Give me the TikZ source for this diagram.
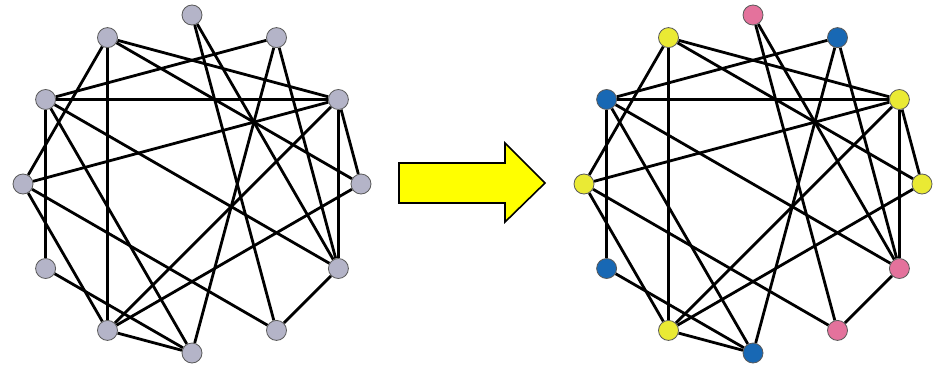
\documentclass[tikz,border=0pt]{standalone}
\usetikzlibrary{backgrounds}
\definecolor{vgray}{HTML}{B4B4C8}
\definecolor{vpink}{HTML}{E4729C}
\definecolor{vblue}{HTML}{1868B4}
\definecolor{vyellow}{HTML}{EAEA34}
\definecolor{arrowyellow}{HTML}{FFFF00}
\tikzset{
  vertex/.style={circle, draw=black!65, line width=0.8pt, minimum size=20pt, inner sep=0pt},
  edge/.style={line width=2.8pt, black},
  bigarrow/.style={fill=arrowyellow, draw=black, line width=1.6pt, line join=miter}
}
% vertices of a regular 12-gon (centre (192,184), radius 169) and the edge set
\newcommand\graphedges{T/LR, T/R3, UL/R1, UL/R2, UL/LL, UL/L2, L1/R1, L1/UR, L1/L3, L1/B, L1/R3,
  L2/R1, L2/LR, L2/LL, L3/B, LL/B, LL/R1, LL/R2, UR/B, UR/R3, R1/R3, R1/R2, R3/LR}
\newcommand\drawgraph[3]{%
  \begin{scope}[xshift=#1, name prefix=#2-]
    \foreach \n/\px/\py/\c in {#3}
      \node[vertex, fill=\c] (\n) at (\px,\py) {};
    \begin{scope}[on background layer]
      \foreach \a/\b in \graphedges
        \draw[edge] (\a) -- (\b);
    \end{scope}
  \end{scope}}
\begin{document}
\begin{tikzpicture}[x=1pt,y=-1pt]
\useasboundingbox (0,0) rectangle (936,367);
\drawgraph{0pt}{a}{T/192/15/vgray, UR/276.5/37.6/vgray, R1/338.4/99.5/vgray, R2/361/184/vgray,
  R3/338.4/268.5/vgray, LR/276.5/330.4/vgray, B/192/353/vgray, LL/107.5/330.4/vgray,
  L3/45.6/268.5/vgray, L2/23/184/vgray, L1/45.6/99.5/vgray, UL/107.5/37.6/vgray}
\drawgraph{561pt}{b}{T/192/15/vpink, UR/276.5/37.6/vblue, R1/338.4/99.5/vyellow, R2/361/184/vyellow,
  R3/338.4/268.5/vpink, LR/276.5/330.4/vpink, B/192/353/vblue, LL/107.5/330.4/vyellow,
  L3/45.6/268.5/vblue, L2/23/184/vyellow, L1/45.6/99.5/vblue, UL/107.5/37.6/vyellow}
% the block arrow between the two graphs
\draw[bigarrow] (399,163) -- (505,163) -- (505,143) -- (545,183) -- (505,222) -- (505,203) -- (399,203) -- cycle;
\end{tikzpicture}
\end{document}
